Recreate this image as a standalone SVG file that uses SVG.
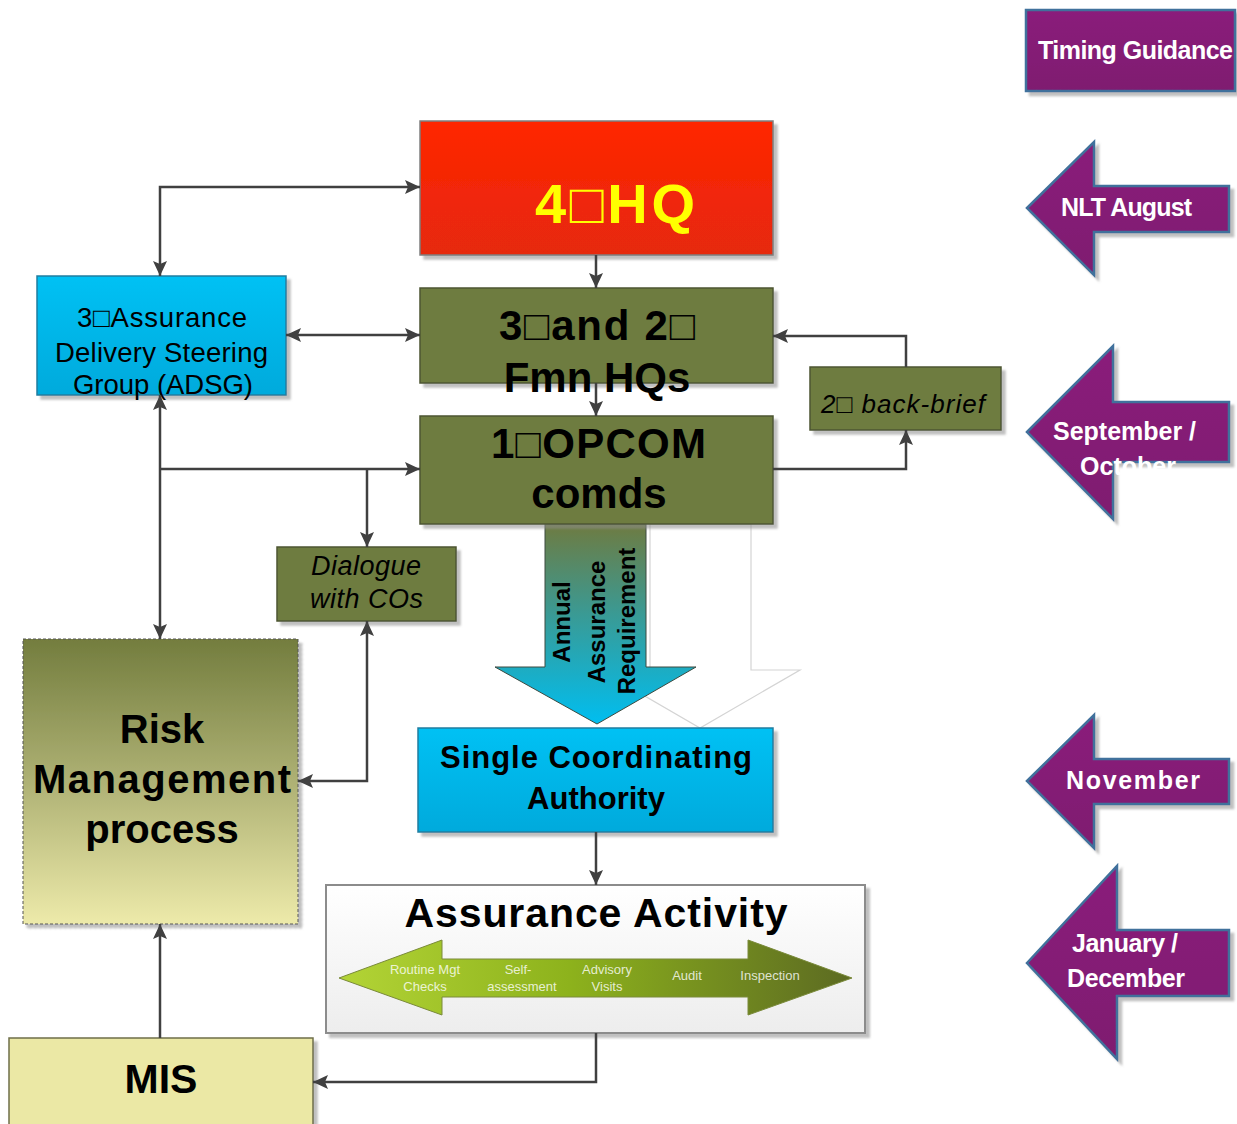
<svg xmlns="http://www.w3.org/2000/svg" width="1237" height="1124" viewBox="0 0 1237 1124">
<defs>
  <linearGradient id="gRed" x1="0" y1="0" x2="0" y2="1"><stop offset="0" stop-color="#FF2600"/><stop offset="1" stop-color="#E6290E"/></linearGradient>
  <linearGradient id="gCyan" x1="0" y1="0" x2="0" y2="1"><stop offset="0" stop-color="#00C1F4"/><stop offset="1" stop-color="#00AADC"/></linearGradient>
  <linearGradient id="gRisk" x1="0" y1="0" x2="0" y2="1"><stop offset="0" stop-color="#737D3E"/><stop offset="0.5" stop-color="#AEB174"/><stop offset="1" stop-color="#EDEAAA"/></linearGradient>
  <linearGradient id="gBlock" x1="0" y1="0" x2="0" y2="1"><stop offset="0" stop-color="#6E7B41"/><stop offset="0.45" stop-color="#3A9A94"/><stop offset="1" stop-color="#00BEF0"/></linearGradient>
  <linearGradient id="gAA" x1="0" y1="0" x2="0" y2="1"><stop offset="0" stop-color="#FFFFFF"/><stop offset="1" stop-color="#EDEDED"/></linearGradient>
  <linearGradient id="gDbl" x1="0" y1="0" x2="1" y2="0"><stop offset="0" stop-color="#B3D436"/><stop offset="0.45" stop-color="#8DB21C"/><stop offset="1" stop-color="#5C6A22"/></linearGradient>
  <linearGradient id="gPurp" x1="0" y1="0" x2="0" y2="1"><stop offset="0" stop-color="#8A1F7B"/><stop offset="1" stop-color="#7F1A70"/></linearGradient>
  <filter id="sh" x="-10%" y="-10%" width="130%" height="130%"><feDropShadow dx="4" dy="4" stdDeviation="1" flood-color="#8C8C8C" flood-opacity="0.55"/></filter>
  <marker id="ah" viewBox="0 0 15 14" refX="15" refY="7" markerWidth="15" markerHeight="14" markerUnits="userSpaceOnUse" orient="auto-start-reverse"><path d="M0,0 L15,7 L0,14 L3,7 z" fill="#404040"/></marker>
</defs>
<style>
  .t { font-family: "Liberation Sans", Arial, sans-serif; }
  .b { font-weight: bold; }
  .olive { fill: #6E7B41; stroke: #4C5530; stroke-width: 1.5; }
  .cyan { fill: url(#gCyan); stroke: #1F7EA0; stroke-width: 1.5; }
  .purp { fill: url(#gPurp); stroke: #41719C; stroke-width: 2.5; }
  .pt { fill: #FFFFFF; font-size: 25px; font-weight: bold; font-family: "Liberation Sans", Arial, sans-serif; }
  .conn { fill: none; stroke: #404040; stroke-width: 2.5; }
  .small { fill: #FFFFFF; fill-opacity: 0.8; font-size: 13px; text-anchor: middle; font-family: "Liberation Sans", Arial, sans-serif; }
</style>

<!-- Timing column -->
<g id="timing-guidance">
  <rect x="1026" y="10" width="209" height="81" class="purp" filter="url(#sh)"/>
  <text x="1038" y="59" class="pt" textLength="195">Timing Guidance</text>
</g>
<g id="nlt-august">
  <polygon points="1027,208 1094,142 1094,186 1229,186 1229,232 1094,232 1094,275" class="purp" filter="url(#sh)"/>
  <text x="1061" y="216" class="pt" textLength="131">NLT August</text>
</g>
<g id="sep-oct">
  <polygon points="1027,432 1113,346 1113,402 1229,402 1229,462 1113,462 1113,519" class="purp" filter="url(#sh)"/>
  <text x="1053" y="440" class="pt" textLength="143">September /</text>
  <text x="1080" y="475" class="pt" textLength="96">October</text>
</g>
<g id="november">
  <polygon points="1027,781 1094,715 1094,759 1229,759 1229,804 1094,804 1094,848" class="purp" filter="url(#sh)"/>
  <text x="1066" y="789" class="pt" font-size="27" textLength="134">November</text>
</g>
<g id="jan-dec">
  <polygon points="1027,963 1117,866 1117,930 1229,930 1229,996 1117,996 1117,1059" class="purp" filter="url(#sh)"/>
  <text x="1072" y="952" class="pt" textLength="106">January /</text>
  <text x="1067" y="987" class="pt" textLength="118">December</text>
</g>

<!-- Annual Assurance Requirement block arrow -->
<g id="annual-assurance-requirement">
  <polygon points="650,524 751,524 751,670 800,670 700,728 600,670 650,670" fill="#FFFFFF" stroke="#D4D4D4" stroke-width="1.2"/>
  <polygon points="545,524 646,524 646,667 696,667 597,724 495,667 545,667" fill="url(#gBlock)" stroke="#3C4A40" stroke-width="1"/>
  <g class="t b" font-size="24" text-anchor="middle" fill="#000">
    <text transform="translate(570,622) rotate(-90)">Annual</text>
    <text transform="translate(605,622) rotate(-90)">Assurance</text>
    <text transform="translate(635,621) rotate(-90)">Requirement</text>
  </g>
</g>

<!-- Nodes -->
<g id="hq4">
  <rect x="420" y="121" width="353" height="134" fill="url(#gRed)" stroke="#7F7F7F" stroke-width="1.5" filter="url(#sh)"/>
  <text x="535" y="223" class="t b" font-size="56" fill="#FFFF00" textLength="160">4□HQ</text>
</g>
<g id="fmn-hqs">
  <rect x="420" y="288" width="353" height="95" class="olive" filter="url(#sh)"/>
  <text x="499" y="340" class="t b" font-size="42" fill="#000" textLength="196">3□and 2□</text>
  <text x="597" y="392" class="t b" font-size="42" fill="#000" text-anchor="middle">Fmn HQs</text>
</g>
<g id="opcom">
  <rect x="420" y="416" width="353" height="108" class="olive" filter="url(#sh)"/>
  <text x="491" y="458" class="t b" font-size="42" fill="#000" textLength="215">1□OPCOM</text>
  <text x="599" y="508" class="t b" font-size="42" fill="#000" text-anchor="middle">comds</text>
</g>
<g id="back-brief">
  <rect x="810" y="367" width="191" height="63" class="olive" filter="url(#sh)"/>
  <text x="821" y="413" class="t" font-size="26" font-style="italic" fill="#000" textLength="164">2□ back-brief</text>
</g>
<g id="adsg">
  <rect x="37" y="276" width="249" height="119" class="cyan" filter="url(#sh)"/>
  <g class="t" font-size="27.5" fill="#000">
    <text x="77" y="327" textLength="170">3□Assurance</text>
    <text x="55" y="362" textLength="213">Delivery Steering</text>
    <text x="73" y="394" textLength="180">Group (ADSG)</text>
  </g>
</g>
<g id="dialogue">
  <rect x="277" y="547" width="179" height="74" class="olive" filter="url(#sh)"/>
  <g class="t" font-size="27" font-style="italic" fill="#000">
    <text x="311" y="575" textLength="110">Dialogue</text>
    <text x="310" y="608" textLength="113">with COs</text>
  </g>
</g>
<g id="risk">
  <rect x="23" y="639" width="275" height="285" fill="url(#gRisk)" stroke="#555555" stroke-width="1" stroke-dasharray="3,2" filter="url(#sh)"/>
  <g class="t b" font-size="40" fill="#000" text-anchor="middle">
    <text x="162" y="743">Risk</text>
    <text x="162" y="793" textLength="258">Management</text>
    <text x="162" y="843">process</text>
  </g>
</g>
<g id="sca">
  <rect x="418" y="728" width="355" height="104" class="cyan" filter="url(#sh)"/>
  <g class="t b" font-size="31" fill="#000" text-anchor="middle">
    <text x="596" y="768" textLength="312">Single Coordinating</text>
    <text x="596" y="809">Authority</text>
  </g>
</g>
<g id="assurance-activity">
  <rect x="326" y="885" width="539" height="148" fill="url(#gAA)" stroke="#8C8C8C" stroke-width="2" filter="url(#sh)"/>
  <text x="596" y="927" class="t b" font-size="41" fill="#000" text-anchor="middle" textLength="383">Assurance Activity</text>
  <polygon points="339,978 442,940 442,959 748,959 748,940 852,978 748,1015 748,997 442,997 442,1015" fill="url(#gDbl)" stroke="#7A8A3A" stroke-width="1"/>
  <text x="425" y="974" class="small">Routine Mgt</text>
  <text x="425" y="991" class="small">Checks</text>
  <text x="518" y="974" class="small">Self-</text>
  <text x="522" y="991" class="small">assessment</text>
  <text x="607" y="974" class="small">Advisory</text>
  <text x="607" y="991" class="small">Visits</text>
  <text x="687" y="980" class="small">Audit</text>
  <text x="770" y="980" class="small">Inspection</text>
</g>
<g id="mis">
  <rect x="9" y="1038" width="304" height="90" fill="#EBE8A5" stroke="#6F6F4A" stroke-width="1.5" filter="url(#sh)"/>
  <text x="161" y="1093" class="t b" font-size="41" fill="#000" text-anchor="middle">MIS</text>
</g>

<!-- Connectors -->
<g id="connectors">
  <path class="conn" d="M160,276 V187 H420" marker-start="url(#ah)" marker-end="url(#ah)"/>
  <path class="conn" d="M286,335 H420" marker-start="url(#ah)" marker-end="url(#ah)"/>
  <path class="conn" d="M596,255 V288" marker-end="url(#ah)"/>
  <path class="conn" d="M596,383 V416" marker-end="url(#ah)"/>
  <path class="conn" d="M160,395 V639" marker-start="url(#ah)" marker-end="url(#ah)"/>
  <path class="conn" d="M160,469 H420" marker-end="url(#ah)"/>
  <path class="conn" d="M367,469 V547" marker-end="url(#ah)"/>
  <path class="conn" d="M298,781 H367 V621" marker-start="url(#ah)" marker-end="url(#ah)"/>
  <path class="conn" d="M773,469 H906 V430" marker-end="url(#ah)"/>
  <path class="conn" d="M906,367 V336 H773" marker-end="url(#ah)"/>
  <path class="conn" d="M596,832 V885" marker-end="url(#ah)"/>
  <path class="conn" d="M596,1033 V1082 H313" marker-end="url(#ah)"/>
  <path class="conn" d="M160,1038 V924" marker-end="url(#ah)"/>
</g>
</svg>
